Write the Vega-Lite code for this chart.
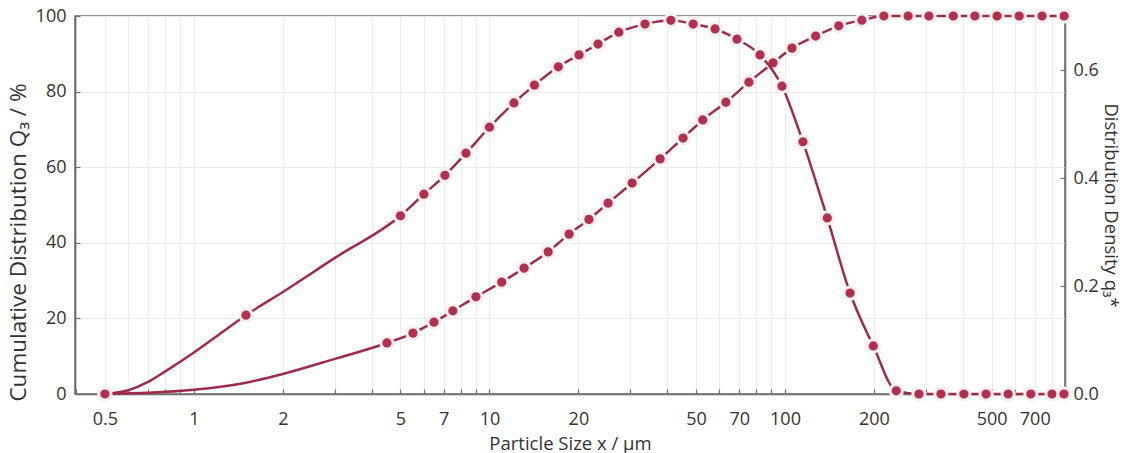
{
  "$schema": "https://vega.github.io/schema/vega-lite/v6.json",
  "width": 990,
  "height": 378,
  "autosize": {"type": "none"},
  "padding": {"left": 75, "top": 16, "right": 61, "bottom": 59},
  "config": {
    "font": "Open Sans",
    "view": {"stroke": "#6e6e6e", "strokeWidth": 1.5},
    "axis": {
      "labelFont": "Open Sans", "titleFont": "Open Sans",
      "labelFontSize": 18, "titleFontSize": 18, "titleFontWeight": "normal",
      "labelColor": "#333333", "titleColor": "#333333",
      "domainColor": "#6e6e6e", "domainWidth": 1.5,
      "tickColor": "#6e6e6e", "tickWidth": 1.2,
      "gridColor": "#ebebeb", "gridWidth": 1
    }
  },
  "data": {
    "values": [
      {"size": 0.5, "series": "Q3", "value": 0, "marker": true},
      {"size": 0.7, "series": "Q3", "value": 0.3, "marker": false},
      {"size": 1.0, "series": "Q3", "value": 1.1, "marker": false},
      {"size": 1.5, "series": "Q3", "value": 3.0, "marker": false},
      {"size": 2.0, "series": "Q3", "value": 5.3, "marker": false},
      {"size": 3.0, "series": "Q3", "value": 9.3, "marker": false},
      {"size": 4.5, "series": "Q3", "value": 13.5, "marker": true},
      {"size": 5.51, "series": "Q3", "value": 16.1, "marker": true},
      {"size": 6.49, "series": "Q3", "value": 19.0, "marker": true},
      {"size": 7.52, "series": "Q3", "value": 22.0, "marker": true},
      {"size": 9.0, "series": "Q3", "value": 25.7, "marker": true},
      {"size": 11.0, "series": "Q3", "value": 29.6, "marker": true},
      {"size": 13.1, "series": "Q3", "value": 33.3, "marker": true},
      {"size": 15.8, "series": "Q3", "value": 37.6, "marker": true},
      {"size": 18.6, "series": "Q3", "value": 42.3, "marker": true},
      {"size": 21.7, "series": "Q3", "value": 46.2, "marker": true},
      {"size": 25.2, "series": "Q3", "value": 50.5, "marker": true},
      {"size": 30.4, "series": "Q3", "value": 55.8, "marker": true},
      {"size": 37.8, "series": "Q3", "value": 62.2, "marker": true},
      {"size": 45.2, "series": "Q3", "value": 67.7, "marker": true},
      {"size": 52.7, "series": "Q3", "value": 72.5, "marker": true},
      {"size": 63.1, "series": "Q3", "value": 77.2, "marker": true},
      {"size": 75.5, "series": "Q3", "value": 82.5, "marker": true},
      {"size": 91.1, "series": "Q3", "value": 87.6, "marker": true},
      {"size": 105.6, "series": "Q3", "value": 91.5, "marker": true},
      {"size": 127, "series": "Q3", "value": 94.7, "marker": true},
      {"size": 152, "series": "Q3", "value": 97.4, "marker": true},
      {"size": 182, "series": "Q3", "value": 98.9, "marker": true},
      {"size": 216, "series": "Q3", "value": 100, "marker": true},
      {"size": 261, "series": "Q3", "value": 100, "marker": true},
      {"size": 307, "series": "Q3", "value": 100, "marker": true},
      {"size": 371, "series": "Q3", "value": 100, "marker": true},
      {"size": 439, "series": "Q3", "value": 100, "marker": true},
      {"size": 522, "series": "Q3", "value": 100, "marker": true},
      {"size": 620, "series": "Q3", "value": 100, "marker": true},
      {"size": 741, "series": "Q3", "value": 100, "marker": true},
      {"size": 880, "series": "Q3", "value": 100, "marker": true},
      {"size": 0.5, "series": "q3", "value": 0, "marker": true},
      {"size": 0.6, "series": "q3", "value": 0.007, "marker": false},
      {"size": 0.7, "series": "q3", "value": 0.0224, "marker": false},
      {"size": 0.8, "series": "q3", "value": 0.042, "marker": false},
      {"size": 1.0, "series": "q3", "value": 0.077, "marker": false},
      {"size": 1.2, "series": "q3", "value": 0.108, "marker": false},
      {"size": 1.5, "series": "q3", "value": 0.146, "marker": true},
      {"size": 2.0, "series": "q3", "value": 0.189, "marker": false},
      {"size": 3.0, "series": "q3", "value": 0.252, "marker": false},
      {"size": 5.0, "series": "q3", "value": 0.330, "marker": true},
      {"size": 6.0, "series": "q3", "value": 0.370, "marker": true},
      {"size": 7.07, "series": "q3", "value": 0.405, "marker": true},
      {"size": 8.33, "series": "q3", "value": 0.446, "marker": true},
      {"size": 10.0, "series": "q3", "value": 0.494, "marker": true},
      {"size": 12.1, "series": "q3", "value": 0.539, "marker": true},
      {"size": 14.2, "series": "q3", "value": 0.572, "marker": true},
      {"size": 17.1, "series": "q3", "value": 0.606, "marker": true},
      {"size": 20.1, "series": "q3", "value": 0.628, "marker": true},
      {"size": 23.3, "series": "q3", "value": 0.648, "marker": true},
      {"size": 27.4, "series": "q3", "value": 0.670, "marker": true},
      {"size": 33.6, "series": "q3", "value": 0.685, "marker": true},
      {"size": 41.1, "series": "q3", "value": 0.692, "marker": true},
      {"size": 48.9, "series": "q3", "value": 0.685, "marker": true},
      {"size": 58.0, "series": "q3", "value": 0.676, "marker": true},
      {"size": 68.8, "series": "q3", "value": 0.657, "marker": true},
      {"size": 82.3, "series": "q3", "value": 0.628, "marker": true},
      {"size": 97.7, "series": "q3", "value": 0.570, "marker": true},
      {"size": 115, "series": "q3", "value": 0.467, "marker": true},
      {"size": 139, "series": "q3", "value": 0.326, "marker": true},
      {"size": 166, "series": "q3", "value": 0.187, "marker": true},
      {"size": 199, "series": "q3", "value": 0.089, "marker": true},
      {"size": 238, "series": "q3", "value": 0.006, "marker": true},
      {"size": 284, "series": "q3", "value": 0, "marker": true},
      {"size": 337, "series": "q3", "value": 0, "marker": true},
      {"size": 403, "series": "q3", "value": 0, "marker": true},
      {"size": 479, "series": "q3", "value": 0, "marker": true},
      {"size": 569, "series": "q3", "value": 0, "marker": true},
      {"size": 679, "series": "q3", "value": 0, "marker": true},
      {"size": 801, "series": "q3", "value": 0, "marker": true},
      {"size": 879, "series": "q3", "value": 0, "marker": true}
    ]
  },
  "encoding": {
    "x": {
      "field": "size", "type": "quantitative",
      "scale": {"type": "log", "domain": [0.396, 886]},
      "axis": {
        "title": "Particle Size x / µm", "titleFontSize": 18.5,
        "values": [0.4,0.5,0.6,0.7,0.8,0.9,1,2,3,4,5,6,7,8,9,10,20,30,40,50,60,70,80,90,100,200,300,400,500,600,700,800],
        "format": "~g",
        "labelExpr": "indexof([0.5,1,2,5,7,10,20,50,70,100,200,500,700], datum.value) >= 0 ? datum.label : ''",
        "labelOverlap": false, "labelFlush": false,
        "grid": true, "tickSize": -5, "labelPadding": 21, "titlePadding": 6
      }
    }
  },
  "layer": [
    {
      "transform": [{"filter": "datum.series === 'Q3'"}],
      "encoding": {
        "y": {
          "field": "value", "type": "quantitative",
          "scale": {"domain": [0, 100]},
          "axis": {
            "title": "Cumulative Distribution Q₃ / %", "titleFontSize": 22.5, "titleY": 226,
            "values": [0, 20, 40, 60, 80, 100],
            "grid": true, "tickSize": -5, "labelPadding": 14, "titlePadding": 5
          }
        }
      },
      "layer": [
        {"mark": {"type": "line", "color": "#9e2c49", "strokeWidth": 2.5, "interpolate": "monotone"}},
        {"transform": [{"filter": "datum.marker"}],
         "mark": {"type": "point", "filled": true, "size": 150, "fill": "#b1304f", "stroke": "#fbeef0", "strokeWidth": 3, "opacity": 1, "strokeOpacity": 1, "clip": false}}
      ]
    },
    {
      "transform": [{"filter": "datum.series === 'q3'"}],
      "encoding": {
        "y": {
          "field": "value", "type": "quantitative",
          "scale": {"domain": [0, 0.7]},
          "axis": {
            "title": "Distribution Density q₃*", "orient": "right", "titleFontSize": 18.5,
            "values": [0, 0.2, 0.4, 0.6], "format": ".1f",
            "grid": false, "tickSize": -5, "labelPadding": 13, "titlePadding": 2
          }
        }
      },
      "layer": [
        {"mark": {"type": "line", "color": "#9e2c49", "strokeWidth": 2.5, "interpolate": "monotone"}},
        {"transform": [{"filter": "datum.marker"}],
         "mark": {"type": "point", "filled": true, "size": 150, "fill": "#b1304f", "stroke": "#fbeef0", "strokeWidth": 3, "opacity": 1, "strokeOpacity": 1, "clip": false}}
      ]
    }
  ],
  "resolve": {"scale": {"y": "independent"}}
}
